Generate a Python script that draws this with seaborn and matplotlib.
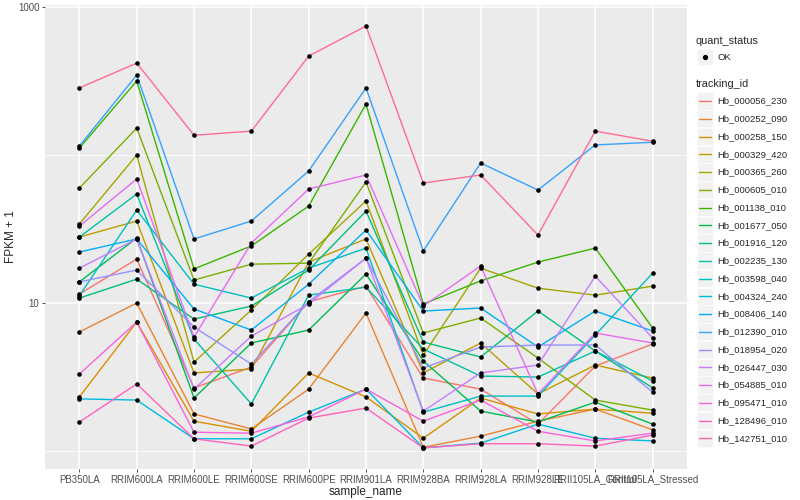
import matplotlib
matplotlib.use("Agg")
import matplotlib.pyplot as plt
from matplotlib.lines import Line2D
from matplotlib.patches import Rectangle
from matplotlib.ticker import FixedLocator, NullFormatter
import seaborn as sns
import pandas as pd

samples = ["PB350LA", "RRIM600LA", "RRIM600LE", "RRIM600SE", "RRIM600PE",
           "RRIM901LA", "RRIM928BA", "RRIM928LA", "RRIM928LE",
           "RRII105LA_Control", "RRII105LA_Stressed"]

tracking_ids = ["Hb_000056_230", "Hb_000252_090", "Hb_000258_150", "Hb_000329_420",
                "Hb_000365_260", "Hb_000605_010", "Hb_001138_010", "Hb_001677_050",
                "Hb_001916_120", "Hb_002235_130", "Hb_003598_040", "Hb_004324_240",
                "Hb_008406_140", "Hb_012390_010", "Hb_018954_020", "Hb_026447_030",
                "Hb_054885_010", "Hb_095471_010", "Hb_128496_010", "Hb_142751_010"]

# FPKM + 1, one list per gene, in sample order
hb_000056_230 = [11.5, 19.8, 2.67, 3.69, 10.2, 13.0, 3.11, 2.62, 1.52, 3.75, 5.28]
hb_000252_090 = [6.37, 10.0, 1.78, 1.41, 2.62, 8.56, 1.06, 1.26, 1.59, 1.92, 1.39]
hb_000258_150 = [2.32, 7.44, 1.59, 1.36, 3.37, 2.32, 1.22, 2.28, 1.78, 1.92, 1.80]
hb_000329_420 = [27.9, 35.8, 3.37, 3.58, 18.9, 27.1, 3.37, 5.37, 2.43, 3.81, 3.11]
hb_000365_260 = [34.2, 100.0, 3.99, 8.97, 21.4, 48.9, 4.45, 17.2, 12.6, 11.3, 13.0]
hb_000605_010 = [59.8, 152.0, 14.3, 18.3, 18.6, 65.7, 6.27, 7.92, 4.25, 2.21, 1.89]
hb_001138_010 = [111.5, 316.0, 17.0, 24.3, 45.2, 221.0, 9.85, 14.1, 18.9, 23.5, 6.78]
hb_001677_050 = [13.9, 27.5, 2.28, 5.37, 6.57, 15.7, 4.06, 1.86, 1.57, 2.14, 1.52]
hb_001916_120 = [10.8, 14.5, 7.79, 9.54, 16.7, 41.8, 5.45, 4.32, 8.83, 4.74, 2.67]
hb_002235_130 = [27.9, 54.5, 5.71, 2.08, 11.3, 12.8, 4.89, 3.21, 3.16, 4.74, 2.97]
hb_003598_040 = [11.2, 42.5, 13.4, 10.8, 17.2, 23.5, 1.83, 2.35, 2.35, 6.08, 15.9]
hb_004324_240 = [2.25, 2.21, 1.21, 1.21, 1.83, 2.62, 1.05, 1.13, 1.52, 1.22, 1.17]
hb_008406_140 = [22.1, 27.1, 9.11, 6.57, 13.4, 31.1, 8.83, 9.25, 5.04, 8.83, 6.47]
hb_012390_010 = [115.0, 347.0, 27.1, 35.8, 78.0, 284.0, 22.5, 88.3, 58.0, 117.0, 122.0]
hb_018954_020 = [13.9, 16.7, 6.88, 3.87, 10.2, 20.1, 3.64, 5.04, 5.20, 5.20, 2.50]
hb_026447_030 = [17.2, 27.1, 2.62, 5.98, 9.85, 20.1, 1.86, 3.37, 3.81, 15.2, 5.80]
hb_054885_010 = [33.1, 68.9, 5.89, 25.4, 58.9, 73.3, 9.54, 17.8, 2.43, 6.27, 5.37]
hb_095471_010 = [3.31, 7.44, 1.34, 1.32, 1.70, 2.62, 1.59, 2.21, 1.36, 1.17, 1.32]
hb_128496_010 = [1.57, 2.84, 1.21, 1.08, 1.67, 1.95, 1.05, 1.12, 1.12, 1.08, 1.28]
hb_142751_010 = [284.0, 418.0, 136.0, 145.0, 466.0, 744.0, 64.7, 73.3, 28.8, 145.0, 124.0]

series = [hb_000056_230, hb_000252_090, hb_000258_150, hb_000329_420, hb_000365_260,
          hb_000605_010, hb_001138_010, hb_001677_050, hb_001916_120, hb_002235_130,
          hb_003598_040, hb_004324_240, hb_008406_140, hb_012390_010, hb_018954_020,
          hb_026447_030, hb_054885_010, hb_095471_010, hb_128496_010, hb_142751_010]

# ggplot2 default hue palette for 20 levels
palette = ["#F8766D", "#EA8331", "#D89000", "#C09B00", "#A3A500", "#7CAE00", "#39B600",
           "#00BB4E", "#00BF7D", "#00C1A3", "#00BFC4", "#00BAE0", "#00B0F6", "#35A2FF",
           "#9590FF", "#C77CFF", "#E76BF3", "#FA62DB", "#FF62BC", "#FF6C91"]

rows = []
for tid, vals in zip(tracking_ids, series):
    for s, v in zip(samples, vals):
        rows.append({"sample_name": s, "tracking_id": tid, "fpkm": v, "quant_status": "OK"})
df = pd.DataFrame(rows)

sns.set_theme(style="darkgrid")
plt.rcParams["font.family"] = ["Liberation Sans", "DejaVu Sans"]

W, H = 800, 500
fig = plt.figure(figsize=(8, 5), dpi=100)
ax = fig.add_axes([45 / W, 1 - 469 / H, (687 - 45) / W, (469 - 5) / H])
ax.set_facecolor("#EBEBEB")

sns.lineplot(data=df, x="sample_name", y="fpkm", hue="tracking_id", hue_order=tracking_ids,
             palette=palette, estimator=None, sort=False, lw=1.0, legend=False, ax=ax)
sns.scatterplot(data=df, x="sample_name", y="fpkm", color="black", s=11, linewidth=0,
                legend=False, ax=ax, zorder=3)

ax.set_yscale("log")
ax.set_ylim(0.756, 1032)
ax.set_xlim(-0.6, 10.6)
ax.yaxis.set_major_locator(FixedLocator([10, 1000]))
ax.set_yticklabels(["10", "1000"])
ax.yaxis.set_minor_locator(FixedLocator([1, 100]))
ax.yaxis.set_minor_formatter(NullFormatter())

ax.grid(which="major", color="white", lw=1.1)
ax.grid(which="minor", axis="y", color="white", lw=0.55)
for sp in ax.spines.values():
    sp.set_visible(False)
ax.tick_params(which="major", length=2.5, width=0.6, color="#333333", labelsize=7,
               labelcolor="#4D4D4D", pad=1.5, bottom=True, left=True)
ax.tick_params(which="minor", length=0)

ax.set_xlabel("sample_name", fontsize=8.5, labelpad=1)
ax.set_ylabel("FPKM + 1", fontsize=8.5, labelpad=0.5)


def fx(px):
    return px / W


def fy(py):
    return 1 - py / H


# legend: quant_status
fig.text(fx(696), fy(41), "quant_status", fontsize=7.8, va="center", ha="left")
fig.add_artist(Rectangle((fx(697), fy(65)), 16 / W, 16 / H, transform=fig.transFigure,
                         facecolor="#F2F2F2", edgecolor="white", lw=0.5))
fig.add_artist(Line2D([fx(705)], [fy(57)], marker="o", color="black", markersize=2.8,
                      transform=fig.transFigure))
fig.text(fx(717), fy(57), "OK", fontsize=6.8, va="center", ha="left")

# legend: tracking_id
fig.text(fx(696), fy(84), "tracking_id", fontsize=7.8, va="center", ha="left")
step = 17.75
for i, (tid, col) in enumerate(zip(tracking_ids, palette)):
    yc = 101 + i * step
    fig.add_artist(Rectangle((fx(697), fy(yc + 8.6)), 16 / W, 17.2 / H,
                             transform=fig.transFigure, facecolor="#F2F2F2",
                             edgecolor="white", lw=0.5))
    fig.add_artist(Line2D([fx(699), fx(711)], [fy(yc), fy(yc)], color=col, lw=1.0,
                          transform=fig.transFigure))
    fig.text(fx(717), fy(yc), tid, fontsize=6.8, va="center", ha="left")

fig.savefig("out.png", dpi=100)
